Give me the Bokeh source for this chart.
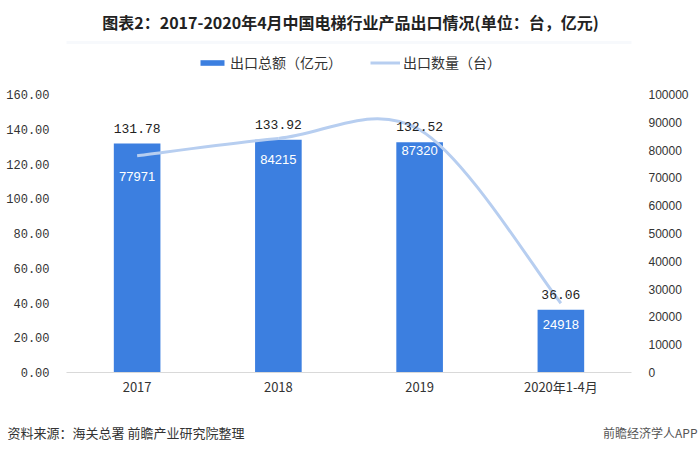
from bokeh.plotting import figure
from bokeh.models import (Range1d, LinearAxis, FixedTicker, Legend, LegendItem, Label,
                          NumeralTickFormatter, BoxAnnotation)
from bokeh.core.properties import value
from bokeh.embed import file_html
from bokeh.resources import INLINE

# ---- data ----
categories = ["2017", "2018", "2019", "2020年1-4月"]
export_value = [131.78, 133.92, 132.52, 36.06]      # 出口总额（亿元）
export_qty = [77971, 84215, 87320, 24918]           # 出口数量（台）
left_ticks = [0, 20, 40, 60, 80, 100, 120, 140, 160]
right_ticks = [0, 10000, 20000, 30000, 40000, 50000, 60000, 70000, 80000, 90000, 100000]

title_text = "图表2：2017-2020年4月中国电梯行业产品出口情况(单位：台，亿元)"
source_text = "资料来源：海关总署 前瞻产业研究院整理"
brand_text = "前瞻经济学人APP"

BAR = "#3c7fe0"
LINE = "#b7cef0"
CJK = "Noto Sans CJK SC"

xs = [i + 0.5 for i in range(len(categories))]

# frame: from the canvas top down to the zero line (372 px); ticks span the lower 278 px
FRAME_H = 372
TICK_H = 278
y_top = left_ticks[-1] * FRAME_H / TICK_H
q_top = right_ticks[-1] * FRAME_H / TICK_H

p = figure(width=700, height=452, output_backend="svg", toolbar_location=None,
           x_range=Range1d(0, len(categories)), y_range=Range1d(0, y_top),
           min_border_left=66, min_border_right=69, min_border_top=0, min_border_bottom=80)
p.extra_y_ranges = {"qty": Range1d(0, q_top)}
p.outline_line_color = None
p.background_fill_color = "white"
p.border_fill_color = "white"
p.xgrid.visible = False
p.ygrid.visible = False

# axes
p.xaxis.ticker = FixedTicker(ticks=xs)
p.xaxis.major_label_overrides = {x: c for x, c in zip(xs, categories)}
p.xaxis.axis_line_color = "#d9d9d9"
p.xaxis.axis_line_width = 1
p.xaxis.major_tick_line_color = None
p.xaxis.minor_tick_line_color = None
p.xaxis.major_label_text_font = CJK
p.xaxis.major_label_text_font_size = "13px"
p.xaxis.major_label_text_color = "#333333"
p.xaxis.major_label_standoff = -2

p.yaxis.ticker = FixedTicker(ticks=left_ticks)
p.yaxis.formatter = NumeralTickFormatter(format="0.00")
p.yaxis.axis_line_color = None
p.yaxis.major_tick_line_color = None
p.yaxis.minor_tick_line_color = None
p.yaxis.major_label_text_font = "Liberation Mono"
p.yaxis.major_label_text_font_size = "12px"
p.yaxis.major_label_text_color = "#333333"
p.yaxis.major_label_standoff = 11

ry = LinearAxis(y_range_name="qty", ticker=FixedTicker(ticks=right_ticks),
                formatter=NumeralTickFormatter(format="0"))
ry.axis_line_color = None
ry.major_tick_line_color = None
ry.minor_tick_line_color = None
ry.major_label_text_font = "Liberation Sans"
ry.major_label_text_font_size = "12px"
ry.major_label_text_color = "#333333"
ry.major_label_standoff = 11
p.add_layout(ry, "right")

# bars
bars = p.vbar(x=xs, top=export_value, width=0.33, fill_color=BAR, line_color=None)

# smooth line (Catmull-Rom bezier through the data points)
n = len(xs)
x0, y0, x1, y1, cx0, cy0, cx1, cy1 = [], [], [], [], [], [], [], []
for i in range(n - 1):
    pm = max(i - 1, 0)
    pn = min(i + 2, n - 1)
    x0.append(xs[i]); y0.append(export_qty[i])
    x1.append(xs[i + 1]); y1.append(export_qty[i + 1])
    cx0.append(xs[i] + (xs[i + 1] - xs[pm]) / 6)
    cy0.append(export_qty[i] + (export_qty[i + 1] - export_qty[pm]) / 6)
    cx1.append(xs[i + 1] - (xs[pn] - xs[i]) / 6)
    cy1.append(export_qty[i + 1] - (export_qty[pn] - export_qty[i]) / 6)
curve = p.bezier(x0=x0, y0=y0, x1=x1, y1=y1, cx0=cx0, cy0=cy0, cx1=cx1, cy1=cy1,
                 line_color=LINE, line_width=3, y_range_name="qty")

# labels
p.text(x=xs, y=export_value, text=[f"{v:.2f}" for v in export_value],
       text_align="center", text_baseline="bottom", y_offset=-11,
       text_font=value("Liberation Mono"), text_font_size="13px", text_color="#222222")
p.text(x=xs, y=export_qty, text=[str(v) for v in export_qty], y_range_name="qty",
       text_align="center", text_baseline="middle", y_offset=21,
       text_font=value("Liberation Sans"), text_font_size="13px", text_color="white")

# legend
legend = Legend(items=[LegendItem(label="出口总额（亿元）", renderers=[bars]),
                       LegendItem(label="出口数量（台）", renderers=[curve])],
                location=(131, 300), orientation="horizontal",
                padding=0, margin=0, spacing=28, label_standoff=3,
                glyph_width=30, glyph_height=7, label_height=18,
                label_text_font=CJK, label_text_font_size="14px", label_text_color="#333333",
                border_line_color=None, background_fill_alpha=0)
p.add_layout(legend, "center")

# title
p.add_layout(Label(x=284, y=351, x_units="screen", y_units="screen", text=title_text,
                   text_align="center", text_baseline="middle", text_font=CJK,
                   text_font_size="16px", text_font_style="bold", text_color="#222222"))

# panel frame around the chart area
p.add_layout(BoxAnnotation(left=1, right=694, top=42, bottom=412,
                           left_units="canvas", right_units="canvas",
                           top_units="canvas", bottom_units="canvas",
                           fill_color=None, line_color="#e6ecf5", line_width=3), "below")

# footer
p.add_layout(Label(x=7, y=432, x_units="canvas", y_units="canvas", text=source_text,
                   text_align="left", text_baseline="middle", text_font=CJK,
                   text_font_size="13px", text_color="#333333"), "below")
p.add_layout(Label(x=697, y=432, x_units="canvas", y_units="canvas", text=brand_text,
                   text_align="right", text_baseline="middle", text_font=CJK,
                   text_font_size="12px", text_color="#555555"), "below")

open("out.html", "w").write(file_html(p, INLINE))
